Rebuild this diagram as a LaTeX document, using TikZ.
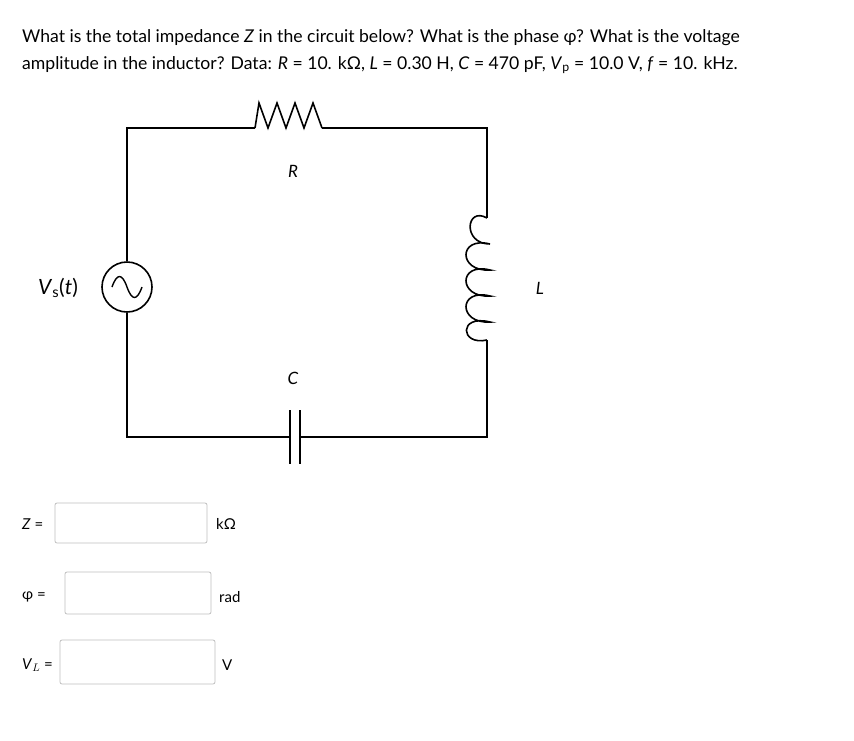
\documentclass[tikz,border=0pt]{standalone}
\usepackage{fontspec}
\setmainfont{Lato}
\begin{document}
\begin{tikzpicture}[x=1pt,y=-1pt,
  wire/.style={line width=1.6pt,black},
  ansbox/.style={draw=black!25,rounded corners=2pt,line width=0.8pt},
  txt/.style={font=\fontsize{17.6}{20}\selectfont,inner sep=0pt},
  lbl/.style={font=\fontsize{17}{19}\selectfont\itshape,inner sep=0pt},
  small/.style={font=\fontsize{15}{17}\selectfont,inner sep=0pt}]
\useasboundingbox (0,0) rectangle (854,740);
\node[txt,anchor=base west] (q1) at (22,42) {What is the total impedance \textit{Z} in the circuit below? What is the phase φ? What is the voltage};
\node[txt,anchor=base west] (q2) at (22,69) {amplitude in the inductor? Data: \textit{R} = 10. kΩ, \textit{L} = 0.30 H, \textit{C} = 470 pF, \textit{V}$_{\mathrm{p}}$ = 10.0 V, \textit{f} = 10. kHz.};
\coordinate (tl) at (127,128); \coordinate (tr) at (487,128);
\coordinate (bl) at (127,437); \coordinate (br) at (487,437);
\coordinate (r1) at (255,128); \coordinate (r2) at (322,128);
\coordinate (l1) at (487,218); \coordinate (l2) at (487,340);
\coordinate (c1) at (290,437); \coordinate (c2) at (300,437);
\node[circle,draw,line width=1.6pt,minimum size=50pt,inner sep=0pt] (src) at (127,287) {};
\draw[line width=1.4pt] ([xshift=-15pt]src.center) .. controls +(5,-14) and +(-5,-14) .. (src.center) .. controls +(5,14) and +(-5,14) .. ([xshift=15pt]src.center);
\draw[wire] (src.north) -- (tl) -- (r1);
\draw[wire] (r1) -- (259,103) -- (268,128) -- (277,103) -- (286,128) -- (295,103) -- (304,128) -- (313,103) -- (r2);
\draw[wire] (r2) -- (tr) -- (l1);
\draw[wire] (l1) .. controls (466,206) and (462,244) .. (490,244)
  .. controls (458,236) and (458,272) .. (490,270)
  .. controls (458,262) and (458,298) .. (490,296)
  .. controls (458,288) and (458,324) .. (490,322)
  .. controls (458,314) and (460,346) .. (487,340) -- (l2);
\draw[wire] (l2) -- (br) -- (c2);
\draw[wire] (c1) -- (bl) -- (src.south);
\draw[wire] (290,410) -- (290,464);
\draw[wire] (300,410) -- (300,464);
\node[lbl] (R) at (293,171) {R};
\node[lbl] (C) at (293,378) {C};
\node[lbl] (L) at (540,288) {L};
\node[txt,font=\fontsize{21}{24}\selectfont] (vs) at (58,288) {\textit{V}$_{\mathrm s}$(\textit{t})};
\node[small,anchor=west] (z) at (22,524) {\textit{Z} =};
\draw[ansbox] (55,503) rectangle (207,543);
\node[small,anchor=west] (zu) at (216,524) {kΩ};
\node[small,anchor=west] (p) at (22,597) {φ =};
\draw[ansbox] (65,572) rectangle (211,614);
\node[small,anchor=west] (pu) at (219,597) {rad};
\node[small,anchor=west] (v) at (22,665) {\textit{V}$_{L}$ =};
\draw[ansbox] (60,640) rectangle (215,684);
\node[small,anchor=west] (vu) at (222,665) {V};
\end{tikzpicture}
\end{document}
